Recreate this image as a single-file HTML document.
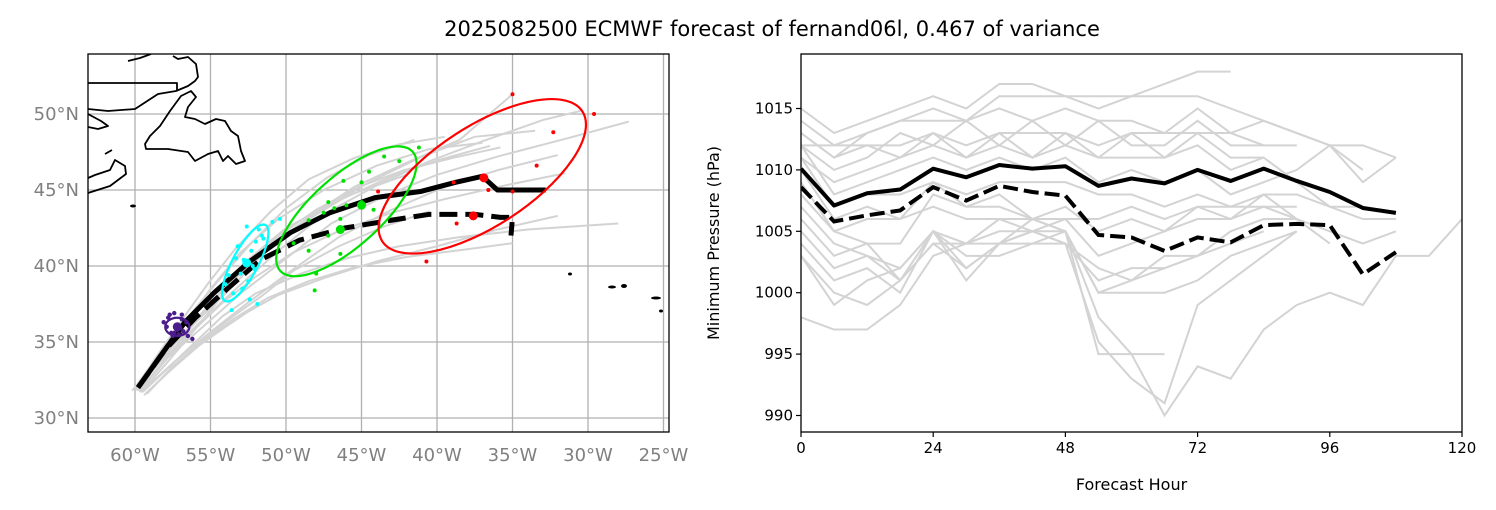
<!DOCTYPE html>
<html><head><meta charset="utf-8"><style>
html,body{margin:0;padding:0;background:#fff;}
svg{display:block;font-family:"DejaVu Sans","Liberation Sans",sans-serif;}
</style></head><body>
<svg id="fig" width="1496" height="510" viewBox="0 0 1496 510" xmlns="http://www.w3.org/2000/svg">
<text x="772" y="36" text-anchor="middle" font-size="21" fill="#000">2025082500 ECMWF forecast of fernand06l, 0.467 of variance</text>
<g id="map"></g>
<g id="pres"></g>
</svg>
<script>
// ---------- MAP DATA ----------
const lonTicks = [-60,-55,-50,-45,-40,-35,-30,-25];
const lonLabels = ["60°W","55°W","50°W","45°W","40°W","35°W","30°W","25°W"];
const latTicks = [30,35,40,45,50];
const latLabels = ["30°N","35°N","40°N","45°N","50°N"];
const meanLon = [-59.8,-58.3,-56.7,-54.7,-52.4,-49.7,-47.1,-44.1,-41.1,-38.8,-37.0,-36.0,-32.8];
const meanLat = [32.0,34.1,36.3,38.3,40.3,42.2,43.5,44.5,44.9,45.5,45.9,45.0,45.0];
const detLon = [-59.8,-58.0,-56.0,-54.0,-51.7,-49.1,-46.1,-43.1,-40.5,-37.5,-35.8,-35.0,-35.1];
const detLat = [32.0,34.5,36.6,38.4,40.4,41.7,42.5,43.0,43.4,43.4,43.2,43.2,42.0];
const ensLon = [
 [-60.2,-58.5,-56.5,-54.0,-51.5,-48.5,-45.5,-42.0,-38.5,-35.0],
 [-60.0,-58.0,-55.8,-53.2,-50.5,-47.5,-44.0,-40.5,-37.0,-33.0,-30.5],
 [-59.5,-57.8,-55.5,-53.0,-50.0,-47.0,-43.5,-40.0,-36.0,-31.0,-27.3],
 [-59.8,-58.2,-56.0,-53.8,-51.0,-48.0,-44.5,-41.0,-37.5,-33.5],
 [-59.6,-57.5,-55.2,-52.5,-49.5,-46.5,-43.0,-39.5,-36.0,-32.0],
 [-59.7,-58.0,-56.2,-54.3,-52.0,-49.5,-46.5,-43.0,-39.5,-35.5,-31.5],
 [-59.5,-57.8,-56.0,-54.2,-52.0,-49.0,-46.0,-42.5,-38.5,-34.0,-28.0],
 [-59.3,-57.6,-55.6,-53.5,-51.2,-48.5,-45.5,-42.0,-38.0,-35.0],
 [-59.8,-58.3,-56.7,-55.0,-53.0,-50.5,-47.5,-44.0,-40.5,-37.0],
 [-59.4,-57.8,-56.0,-54.0,-52.5,-50.5,-47.5,-44.0,-40.0,-36.0,-32.0],
 [-59.6,-58.0,-56.3,-54.5,-53.0,-50.0,-46.0,-42.0],
 [-60.0,-58.6,-57.0,-55.2,-53.3,-51.0,-48.5,-45.5,-42.5,-39.5],
 [-59.2,-57.5,-55.5,-53.5,-51.5,-49.5,-46.5,-43.5,-40.5],
 [-60.0,-58.4,-56.6,-54.6,-52.4,-50.0,-47.3,-44.5,-41.5],
 [-59.9,-58.2,-56.4,-54.4,-52.0,-49.3,-46.3,-43.0,-39.8,-36.5],
 [-59.7,-58.1,-56.5,-54.8,-52.8,-50.6,-48.0,-45.2,-42.2,-39.0,-35.8]
];
const ensLat = [
 [31.8,33.8,35.8,38.2,40.8,43.2,45.2,46.8,48.3,51.3],
 [31.9,34.0,36.2,38.6,41.0,43.4,45.3,46.9,48.2,49.6,50.2],
 [32.0,34.0,36.0,38.2,40.5,42.8,44.6,46.0,47.2,48.5,49.5],
 [31.9,34.1,36.4,38.8,41.2,43.5,45.5,47.2,48.5,48.9],
 [31.7,33.6,35.5,37.6,39.8,41.9,43.7,45.2,46.3,47.3],
 [31.9,33.8,35.7,37.5,39.3,40.9,42.3,43.5,44.4,45.3,46.1],
 [31.7,33.3,35.0,36.7,38.2,39.5,40.5,41.3,41.9,42.4,42.8],
 [31.6,33.2,34.9,36.5,37.9,39.0,39.9,40.6,41.1,41.5],
 [31.8,33.9,36.1,38.5,40.9,43.1,45.0,46.6,47.7,48.1],
 [31.5,33.0,34.6,36.0,37.0,38.1,39.2,40.3,41.3,42.4,43.3],
 [31.7,33.5,35.5,37.7,40.0,42.5,44.6,46.0],
 [31.9,34.0,36.3,38.8,41.2,43.6,45.7,47.1,48.0,48.5],
 [31.6,33.4,35.1,36.7,38.1,39.7,41.3,42.6,43.6],
 [32.0,34.2,36.5,38.9,41.4,43.8,45.8,47.3,48.3],
 [31.8,33.9,36.0,38.2,40.5,42.6,44.4,45.9,47.0,47.9],
 [31.7,33.7,35.7,37.8,39.9,41.9,43.7,45.2,46.3,47.1,47.8]
];
const purpleLon = [-57.3,-57.8,-56.8,-57.1,-57.6,-56.6,-57.9,-57.4,-56.9,-57.0,-57.5,-56.5,-58.1,-57.2,-56.2,-57.7,-56.9,-57.4];
const purpleLat = [36.1,36.6,35.7,35.5,35.6,36.3,36.0,36.9,36.8,35.9,35.4,35.4,36.3,35.8,35.2,36.8,36.5,35.6];
const cyanLon = [-52.7,-52.3,-53.0,-52.5,-53.3,-52.0,-51.8,-53.5,-52.9,-52.2,-51.6,-52.6,-53.2,-51.5,-50.9,-50.4,-53.8,-54.0,-52.4,-51.9,-53.6,-52.8,-52.1];
const cyanLat = [40.2,41.0,39.5,39.0,40.5,41.6,42.4,38.2,38.5,40.0,42.0,42.6,41.3,41.8,42.9,43.1,39.4,38.8,37.8,37.5,37.1,40.4,39.8];
const greenLon = [-43.5,-41.2,-42.5,-44.5,-45.0,-46.2,-47.2,-47.5,-46.8,-46.0,-45.0,-48.5,-47.2,-46.5,-49.5,-48.5,-48.0,-46.4,-48.1,-46.4,-44.2];
const greenLat = [47.2,47.8,46.9,46.2,45.5,45.6,44.2,43.5,43.8,44.0,44.2,43.0,42.0,42.4,41.5,41.0,39.5,40.8,38.4,43.1,43.7];
const redLon = [-35.0,-29.6,-32.3,-33.4,-38.9,-36.6,-35.0,-38.7,-40.7,-43.9];
const redLat = [51.3,50.0,48.8,46.6,45.5,45.0,44.9,42.8,40.3,44.9];
const bigLon = [-45.0,-46.4,-36.9,-37.6,-52.6,-57.2];
const bigLat = [44.0,42.4,45.8,43.3,40.2,36.0];
const bigCol = ["#00e000","#00e000","#ff0000","#ff0000","#00ffff","#4b1c8c"];
const ellLon = [-57.2,-52.7,-46.0,-37.0];
const ellLat = [36.0,40.2,43.6,45.9];
const ellA = [0.8,2.85,5.9,7.9];
const ellB = [0.6,0.85,2.3,3.3];
const ellAng = [0,-62,-42,-33];
const ellCol = ["#4b1c8c","#00ffff","#00e000","#ff0000"];

// ---------- PRESSURE DATA ----------
const hours = [0,6,12,18,24,30,36,42,48,54,60,66,72,78,84,90,96,102,108,114,120];
const xTicks = [0,24,48,72,96,120];
const yTicks = [990,995,1000,1005,1010,1015];
const meanP = [1010.1,1007.1,1008.1,1008.4,1010.1,1009.4,1010.4,1010.1,1010.3,1008.7,1009.3,1008.9,1010.0,1009.1,1010.1,1009.1,1008.2,1006.9,1006.5];
const detP = [1008.6,1005.8,1006.3,1006.7,1008.6,1007.5,1008.7,1008.2,1007.9,1004.7,1004.5,1003.4,1004.5,1004.1,1005.5,1005.6,1005.5,1001.5,1003.3];
const ensP = [
 [1015,1013,1014,1015,1016,1015,1017,1017,1016,1015,1016,1017,1018,1018],
 [1014,1012,1013,1014,1015,1014,1016,1016,1016,1016,1016,1016,1016,1015,1014,1013,1012,1010],
 [1013,1011,1013,1014,1014,1014,1015,1014,1015,1014,1014,1013,1015,1013,1014,1013,1012,1012,1011],
 [1012,1012,1012,1012,1013,1012,1013,1013,1013,1012,1013,1013,1013,1013,1012,1012],
 [1012,1010,1011,1013,1012,1014,1012,1014,1012,1014,1012,1012,1014,1012,1012],
 [1013,1011,1012,1011,1013,1011,1013,1011,1013,1011,1013,1011,1013,1011,1011],
 [1011,1009,1010,1011,1012,1011,1012,1011,1012,1011,1011,1011,1012,1010,1011,1009,1007,1007],
 [1012,1008,1009,1010,1011,1010,1011,1010,1011,1009,1010,1009,1010,1008,1009,1010,1012,1009,1011],
 [1011,1007,1008,1008,1009,1008,1009,1009,1009,1008,1008,1007,1008,1007,1008,1008,1007,1006,1006],
 [1010,1006,1007,1006,1009,1007,1008,1006,1007,1005,1006,1005,1007,1006,1008,1006,1005,1004,1005],
 [1009,1005,1006,1006,1007,1006,1006,1005,1006,1006,1007,1006,1007,1007,1007,1007],
 [1008,1005,1004,1004,1008,1007,1007,1006,1006,1003,1004,1005,1006,1006,1007,1006],
 [1007,1004,1003,1002,1005,1004,1005,1005,1004,1002,1001,1003,1003,1004,1005],
 [1006,1003,1004,1001,1005,1003,1003,1004,1004,1001,1002,1002,1003,1005,1006,1006,1004],
 [1005,1002,1003,1001,1004,1002,1004,1005,1005,1000,1001,1002,1003],
 [1004,1001,1002,1000,1005,1002,1004,1005,1004,996,993,991,999,1001,1003,1005],
 [1003,999,1001,1002,1005,1001,1004,1004,1005,995,995,990,994,993,997,999,1000,999,1003,1003,1006],
 [998,997,997,999,1003,1004,1004,1006,1005,998,995,995],
 [1003,1000,999,1001,1004,1004,1006,1006,1005,1000,1000,1000,1001,1003,1004,1005]
];

const NS = "http://www.w3.org/2000/svg";
function mk(parent, tag, attrs){const e=document.createElementNS(NS,tag);for(const k in attrs)e.setAttribute(k,attrs[k]);parent.appendChild(e);return e;}

// ---------- MAP ----------
const map = document.getElementById('map');
const MX0=88,MX1=669,MY0=54,MY1=432;
const lonX = lon => 135 + (lon+60)*15.1;
const latY = lat => 114 + (50-lat)*15.2;
const clip = mk(map,'clipPath',{id:'mapclip'});
mk(clip,'rect',{x:MX0,y:MY0,width:MX1-MX0,height:MY1-MY0});
const mg = mk(map,'g',{'clip-path':'url(#mapclip)'});
lonTicks.forEach((t,i)=>{
  const l=mk(mg,'line',{x1:lonX(t),x2:lonX(t),y1:MY0,y2:MY1,stroke:'#b0b0b0','stroke-width':1.3});
  
  
  const tx=mk(map,'text',{x:lonX(t),y:461,'text-anchor':'middle','font-size':18,fill:'#808080'});
  tx.textContent=lonLabels[i];
  
  
});
latTicks.forEach((t,i)=>{
  const l=mk(mg,'line',{x1:MX0,x2:MX1,y1:latY(t),y2:latY(t),stroke:'#b0b0b0','stroke-width':1.3});
  
  
  const tx=mk(map,'text',{x:79,y:latY(t)+6,'text-anchor':'end','font-size':18,fill:'#808080'});
  tx.textContent=latLabels[i];
  
  
});
const coasts = [
 "M88,83 L177,83 L177,91",
 "M88,109 L108,111 L135,109 L158,94 L176,91 L188,86 L195,81 L198,77 L196,64 L188,57 L178,59 L173,56",
 "M128,61 L140,58 L151,54",
 "M145,144 L150,136 L160,126 L170,111 L181,96 L191,91 L196,97 L188,107 L185,117 L195,119 L205,124 L216,119 L225,121 L231,131 L238,136 L241,151 L245,161 L236,164 L228,156 L223,161 L218,151 L208,154 L195,161 L188,152 L168,149 L146,149 Z",
 "M88,114 L101,121 L108,126 L98,129 L88,127",
 "M88,178 L95,175 L110,170 L115,160 L125,166 L126,174 L110,186 L88,193",
 "M105,154 L112,150"
];
coasts.forEach(d=>{
  const p=mk(mg,'path',{d:d,fill:'none',stroke:'#000','stroke-width':1.8,'stroke-linejoin':'round'});
  
  
});
[[570,274,2,1.5],[612,287,4,1.5],[624,286,3,2],[656,298,5,1.5],[661,311,2,1.5],[133,206,3,1.5]].forEach(a=>{
  const e=mk(mg,'ellipse',{cx:a[0],cy:a[1],rx:a[2],ry:a[3],fill:'#000'});
  
  
});
ensLon.forEach((lons,i)=>{
  const pts=lons.map((lo,j)=>lonX(lo)+','+latY(ensLat[i][j])).join(' ');
  const p=mk(mg,'polyline',{points:pts,fill:'none',stroke:'#d3d3d3','stroke-width':2});
  
  
});
function dots(lons,lats,col,r,name){
  lons.forEach((lo,i)=>{
    const c=mk(mg,'circle',{cx:lonX(lo),cy:latY(lats[i]),r:r,fill:col});
    
    
  });
}
const mp=mk(mg,'polyline',{points:meanLon.map((lo,j)=>lonX(lo)+','+latY(meanLat[j])).join(' '),fill:'none',stroke:'#000','stroke-width':5,'stroke-linejoin':'round'});


const dp=mk(mg,'polyline',{points:detLon.map((lo,j)=>lonX(lo)+','+latY(detLat[j])).join(' '),fill:'none',stroke:'#000','stroke-width':5,'stroke-dasharray':'18,8'});


dots(purpleLon,purpleLat,'#4b1c8c',2.2,'purple-position-dot');
dots(cyanLon,cyanLat,'#00ffff',2,'cyan-position-dot');
dots(greenLon,greenLat,'#00e000',2,'green-position-dot');
dots(redLon,redLat,'#ff0000',2,'red-position-dot');
bigLon.forEach((lo,i)=>{
  const c=mk(mg,'circle',{cx:lonX(lo),cy:latY(bigLat[i]),r:4.5,fill:bigCol[i]});
  
  
});
ellLon.forEach((lo,i)=>{
  const cx=lonX(lo),cy=latY(ellLat[i]);
  const e=mk(mg,'ellipse',{cx:cx,cy:cy,rx:ellA[i]*15.1,ry:ellB[i]*15.1,fill:'none',stroke:ellCol[i],'stroke-width':2.2,transform:`rotate(${ellAng[i]} ${cx} ${cy})`});
  
  
});
const mf=mk(map,'rect',{x:MX0,y:MY0,width:MX1-MX0,height:MY1-MY0,fill:'none',stroke:'#000','stroke-width':1.3});



// ---------- PRESSURE ----------
const pr=document.getElementById('pres');
const PX0=801,PX1=1462,PY0=54,PY1=432;
const hx = h => PX0 + h*(PX1-PX0)/120;
const py = p => 415.5 - (p-990)*12.28;
const pclip=mk(pr,'clipPath',{id:'pclip'});
mk(pclip,'rect',{x:PX0,y:PY0,width:PX1-PX0,height:PY1-PY0});
const pg=mk(pr,'g',{'clip-path':'url(#pclip)'});
ensP.forEach(s=>{
  const p=mk(pg,'polyline',{points:s.map((v,j)=>hx(hours[j])+','+py(v)).join(' '),fill:'none',stroke:'#d3d3d3','stroke-width':2});
  
  
});
const ml=mk(pg,'polyline',{points:meanP.map((v,j)=>hx(hours[j])+','+py(v)).join(' '),fill:'none',stroke:'#000','stroke-width':4,'stroke-linejoin':'round'});


const dl=mk(pg,'polyline',{points:detP.map((v,j)=>hx(hours[j])+','+py(v)).join(' '),fill:'none',stroke:'#000','stroke-width':4,'stroke-dasharray':'15,6'});


const pf=mk(pr,'rect',{x:PX0,y:PY0,width:PX1-PX0,height:PY1-PY0,fill:'none',stroke:'#000','stroke-width':1.3});


xTicks.forEach(t=>{
  mk(pr,'line',{x1:hx(t),x2:hx(t),y1:PY1,y2:PY1+5,stroke:'#000','stroke-width':1.2});
  const tx=mk(pr,'text',{x:hx(t),y:453,'text-anchor':'middle','font-size':15,fill:'#000'});
  tx.textContent=t;
  
  
});
yTicks.forEach(t=>{
  mk(pr,'line',{x1:PX0-5,x2:PX0,y1:py(t),y2:py(t),stroke:'#000','stroke-width':1.2});
  const tx=mk(pr,'text',{x:PX0-8,y:py(t)+5,'text-anchor':'end','font-size':15,fill:'#000'});
  tx.textContent=t;
  
  
});
const xt=mk(pr,'text',{x:(PX0+PX1)/2,y:490,'text-anchor':'middle','font-size':16,fill:'#000'});
xt.textContent='Forecast Hour';


const yt=mk(pr,'text',{x:0,y:0,'text-anchor':'middle','font-size':16,fill:'#000',transform:'translate(719,243) rotate(-90)'});
yt.textContent='Minimum Pressure (hPa)';


</script>
</body></html>
